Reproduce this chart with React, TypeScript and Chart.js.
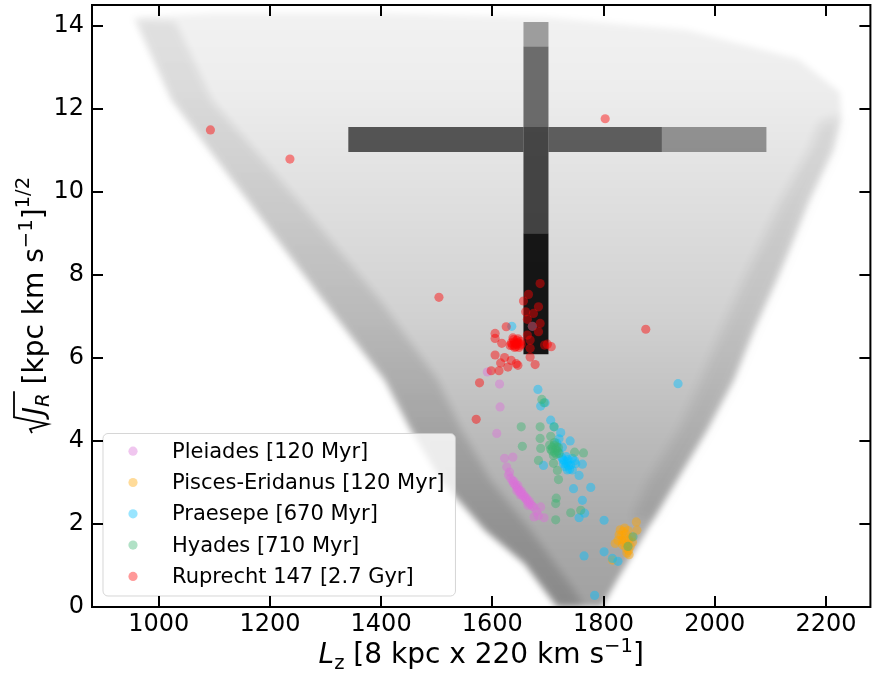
import React, { useEffect, useRef } from "react";
import { Chart, registerables } from "chart.js";

// ---------- axes ----------
const xTickValues = [1000, 1200, 1400, 1600, 1800, 2000, 2200];
const yTickValues = [0, 2, 4, 6, 8, 10, 12, 14];
const xRange = [880, 2280];
const yRange = [0, 14.5];

// ---------- cluster members [Lz, sqrt(JR)] ----------
const clusterNames = [
  "Pleiades [120 Myr]",
  "Pisces-Eridanus [120 Myr]",
  "Praesepe [670 Myr]",
  "Hyades [710 Myr]",
  "Ruprecht 147 [2.7 Gyr]",
];

const pleiades = [
  [1591, 5.66], [1613, 5.37], [1614, 4.82], [1608, 4.18], [1622, 3.58], [1637, 3.61], [1626, 3.37], [1631, 3.25],
  [1629, 3.18], [1633, 3.1], [1636, 3.04], [1638, 2.98], [1641, 2.95], [1643, 2.9], [1645, 2.86], [1647, 2.83],
  [1649, 2.79], [1651, 2.76], [1653, 2.72], [1655, 2.68], [1658, 2.64], [1660, 2.6], [1663, 2.55], [1666, 2.5],
  [1669, 2.47], [1672, 2.43], [1675, 2.4], [1639, 3.03], [1646, 2.93], [1652, 2.8], [1657, 2.7], [1662, 2.62],
  [1667, 2.55], [1644, 2.8], [1650, 2.7], [1664, 2.45], [1675, 2.17], [1693, 2.15], [1687, 2.41], [1680, 2.3],
  [1683, 2.2],
];

const piscesEridanus = [
  [1830, 1.86], [1835, 1.82], [1840, 1.76], [1838, 1.66], [1832, 1.72], [1845, 1.62], [1842, 1.5], [1836, 1.56],
  [1840, 1.42], [1845, 1.36], [1848, 1.46], [1833, 1.62], [1850, 1.68], [1844, 1.84], [1838, 1.9], [1842, 1.3],
  [1846, 1.26], [1834, 1.5], [1828, 1.74], [1852, 1.56], [1859, 2.05], [1860, 1.85], [1821, 1.53], [1816, 1.13],
  [1826, 1.6],
];

const praesepe = [
  [1682, 5.24], [1695, 4.92], [1687, 4.84], [1705, 4.5], [1711, 4.34], [1723, 4.2], [1740, 4.0], [1744, 3.58],
  [1762, 3.44], [1756, 3.17], [1692, 3.41], [1746, 2.85], [1777, 2.88], [1762, 2.57], [1766, 2.26], [1756, 2.15],
  [1801, 2.09], [1801, 1.33], [1765, 1.23], [1816, 1.17], [1826, 1.1], [1784, 0.28], [1934, 5.38], [1635, 6.76],
  [1672, 6.76],
  [1725, 3.6], [1729, 3.52], [1733, 3.45], [1737, 3.4], [1735, 3.5], [1731, 3.38], [1739, 3.32], [1727, 3.55],
  [1736, 3.55], [1741, 3.42], [1733, 3.62], [1720, 3.72], [1744, 3.3], [1748, 3.52], [1750, 3.45], [1728, 3.45],
  [1716, 3.95], [1720, 4.05], [1726, 3.85], [1735, 3.3],
];

const hyades = [
  [1652, 4.34], [1654, 3.87], [1686, 4.34], [1689, 5.0], [1693, 4.92], [1687, 3.82], [1683, 3.53], [1705, 4.11],
  [1710, 3.46], [1719, 3.07], [1715, 2.62], [1714, 2.49], [1714, 2.1], [1741, 2.27], [1759, 2.33], [1764, 3.71],
  [1844, 1.46], [1853, 1.69], [1711, 4.34], [1748, 3.73], [1717, 3.29], [1686, 4.06],
  [1708, 3.85], [1711, 3.9], [1714, 3.8], [1717, 3.76], [1712, 3.72], [1707, 3.76], [1716, 3.86], [1719, 3.84],
  [1705, 3.8], [1712, 3.96], [1715, 3.68], [1710, 3.65], [1703, 3.9], [1720, 3.7],
];

const ruprecht147 = [
  [1093, 11.49], [1236, 10.79], [1803, 11.76], [1504, 7.46], [1876, 6.69], [1571, 4.52], [1577, 5.4],
  [1686, 7.79], [1665, 7.53], [1656, 7.37], [1683, 7.23], [1660, 7.11], [1674, 7.07], [1663, 6.93], [1686, 6.83],
  [1672, 6.76], [1683, 6.63], [1625, 6.75], [1605, 6.59], [1663, 6.55], [1605, 6.47], [1617, 6.35], [1668, 6.43],
  [1668, 6.23], [1699, 6.33], [1706, 6.27], [1694, 6.31], [1605, 6.07], [1622, 6.01], [1634, 5.94], [1646, 5.82],
  [1628, 5.78], [1615, 5.88], [1677, 5.84], [1598, 5.69], [1612, 5.69], [1668, 6.02], [1643, 5.86],
  [1636, 6.3], [1640, 6.38], [1644, 6.42], [1648, 6.35], [1642, 6.27], [1638, 6.44], [1650, 6.3], [1634, 6.36],
  [1646, 6.46], [1651, 6.4], [1640, 6.25], [1644, 6.33], [1632, 6.3], [1648, 6.25], [1652, 6.33], [1637, 6.48],
  [1641, 6.34], [1645, 6.37], [1639, 6.31],
];

// ---------- background field outlines [Lz, sqrt(JR)] ----------
const fieldOutline = [
  [953, 14.2], [1100, 14.3], [1400, 14.3], [1700, 14.2], [1950, 13.9], [2150, 13.2], [2225, 12.4], [2228, 11.8],
  [2213, 11.0], [2170, 9.8], [2134, 8.6], [2111, 7.87], [2070, 6.66], [2034, 5.46], [1986, 4.26], [1932, 3.05],
  [1878, 1.85], [1824, 0.64], [1797, 0], [1717, 0], [1704, 0.23], [1658, 1.05], [1587, 1.85], [1508, 3.05],
  [1454, 4.26], [1407, 5.46], [1296, 7.39], [1160, 9.8], [1023, 12.21],
];

const leftArm = [
  [960, 14.15], [1023, 12.21], [1160, 9.8], [1296, 7.39], [1407, 5.46], [1454, 4.26], [1508, 3.05], [1587, 1.85],
  [1658, 1.05], [1704, 0.23], [1717, 0], [1765, 0], [1748, 0.4], [1669, 1.85], [1597, 3.05], [1545, 4.26],
  [1502, 5.46], [1398, 7.39], [1250, 9.8], [1095, 12.21], [1030, 14.1],
];

const rightArm = [
  [2228, 11.8], [2213, 11.0], [2170, 9.8], [2134, 8.6], [2111, 7.87], [2070, 6.66], [2034, 5.46], [1986, 4.26],
  [1932, 3.05], [1890, 2.1], [1850, 2.1], [1880, 3.05], [1935, 4.26], [1975, 5.46], [2012, 6.66], [2052, 7.87],
  [2078, 8.6], [2120, 9.8], [2170, 11.0], [2190, 11.7],
];

// ---------- test-particle cross [Lz, sqrt(JR)] ----------
const crossBarLeft = [[1341, 10.96], [1656, 10.96], [1656, 11.56], [1341, 11.56]];
const crossBarRight = [[1701, 10.96], [1905, 10.96], [1905, 11.56], [1701, 11.56]];
const crossBarTail = [[1905, 10.96], [2093, 10.96], [2093, 11.56], [1905, 11.56]];
const crossStemTip = [[1656, 13.5], [1701, 13.5], [1701, 14.09], [1656, 14.09]];
const crossStemTop = [[1656, 11.56], [1701, 11.56], [1701, 13.5], [1656, 13.5]];
const crossStemMid = [[1656, 9.0], [1701, 9.0], [1701, 11.56], [1656, 11.56]];
const crossStemBase = [[1656, 6.09], [1701, 6.09], [1701, 9.0], [1656, 9.0]];

// ---------- styling ----------
const FONT = '"DejaVu Sans", sans-serif';
const clusterColors = ["218,112,214", "255,165,0", "0,191,255", "60,179,113", "255,0,0"];
const clusterSeries = [pleiades, piscesEridanus, praesepe, hyades, ruprecht147];

// soft edges for the density field: set a canvas blur before a dataset's fill is drawn
const softEdgePlugin = {
  id: "softEdge",
  beforeDatasetDraw(chart: any, args: any) {
    const ds = chart.data.datasets[args.index];
    if (ds && ds.softBlur) chart.ctx.filter = `blur(${ds.softBlur}px)`;
  },
  afterDatasetDraw(chart: any, args: any) {
    const ds = chart.data.datasets[args.index];
    if (ds && ds.softBlur) chart.ctx.filter = "none";
  },
};
Chart.register(softEdgePlugin as any);
Chart.register(...registerables);

const toXY = (a: number[][]) => a.map(([x, y]) => ({ x, y }));

const shade = (stops: number[][]) => (ctx: any) => {
  const chart = ctx.chart;
  const ys = chart.scales && chart.scales.y;
  if (!ys || !chart.chartArea) return "rgba(0,0,0,0.15)";
  const y0 = ys.getPixelForValue(yRange[1]);
  const y1 = ys.getPixelForValue(yRange[0]);
  const g = chart.ctx.createLinearGradient(0, y0, 0, y1);
  for (const [v, a] of stops) {
    g.addColorStop((yRange[1] - v) / (yRange[1] - yRange[0]), `rgba(0,0,0,${a})`);
  }
  return g;
};

const polygon = (data: number[][], color: any, blur: number) => ({
  data: toXY(data),
  showLine: true,
  fill: "shape",
  backgroundColor: color,
  borderColor: "rgba(0,0,0,0)",
  borderWidth: 0,
  pointRadius: 0,
  pointHoverRadius: 0,
  softBlur: blur,
});

const clusterDataset = (i: number) => ({
  label: clusterNames[i],
  data: toXY(clusterSeries[i]),
  showLine: false,
  pointRadius: 4.6,
  pointHoverRadius: 4.6,
  pointBorderWidth: 0,
  pointBackgroundColor: `rgba(${clusterColors[i]},0.45)`,
  pointBorderColor: "rgba(0,0,0,0)",
  backgroundColor: `rgba(${clusterColors[i]},0.45)`,
});

type Piece = { t: string; font: string; dy?: number; over?: boolean; space?: number };

function pieceWidth(ctx: CanvasRenderingContext2D, p: Piece) {
  if (p.space !== undefined) return p.space;
  ctx.font = p.font;
  return ctx.measureText(p.t).width;
}

function richWidth(ctx: CanvasRenderingContext2D, pieces: Piece[]) {
  let w = 0;
  for (const p of pieces) w += pieceWidth(ctx, p);
  return w;
}

function drawRich(ctx: CanvasRenderingContext2D, pieces: Piece[], x0: number, base: number) {
  let x = x0;
  let overEnd = -1;
  for (const p of pieces) {
    const w = pieceWidth(ctx, p);
    if (p.space === undefined) {
      ctx.font = p.font;
      ctx.fillText(p.t, x, base + (p.dy || 0));
    }
    if (p.over) overEnd = x + w;
    x += w;
  }
  return overEnd;
}

const decorPlugin = {
  id: "decor",
  afterDatasetsDraw(chart: any) {
    const { ctx, chartArea } = chart;
    const { left, right, top, bottom } = chartArea;
    const xs = chart.scales.x;
    const ys = chart.scales.y;
    ctx.save();
    // legend
    const rowH = 31.3;
    ctx.font = `21px ${FONT}`;
    let maxW = 0;
    for (const n of clusterNames) maxW = Math.max(maxW, ctx.measureText(n).width);
    const lw = 69 + maxW + 11;
    const lh = rowH * clusterNames.length + 6;
    const lx = left + 11;
    const ly = bottom - 11 - lh;
    ctx.beginPath();
    ctx.roundRect(lx, ly, lw, lh, 5);
    ctx.fillStyle = "rgba(255,255,255,0.8)";
    ctx.fill();
    ctx.lineWidth = 1;
    ctx.strokeStyle = "rgba(204,204,204,0.8)";
    ctx.stroke();
    ctx.textBaseline = "middle";
    ctx.textAlign = "left";
    clusterNames.forEach((n, i) => {
      const cy = ly + 17.7 + i * rowH;
      ctx.beginPath();
      ctx.arc(lx + 30, cy, 4.6, 0, Math.PI * 2);
      ctx.fillStyle = `rgba(${clusterColors[i]},0.4)`;
      ctx.fill();
      ctx.fillStyle = "#000";
      ctx.fillText(n, lx + 69, cy + 1);
    });
    // frame and inward ticks
    ctx.strokeStyle = "#000";
    ctx.lineWidth = 2;
    ctx.strokeRect(left, top, right - left, bottom - top);
    const tl = 11;
    ctx.beginPath();
    for (const v of xTickValues) {
      const p = Math.round(xs.getPixelForValue(v));
      ctx.moveTo(p, bottom);
      ctx.lineTo(p, bottom - tl);
      ctx.moveTo(p, top);
      ctx.lineTo(p, top + tl);
    }
    for (const v of yTickValues) {
      const p = Math.round(ys.getPixelForValue(v));
      ctx.moveTo(left, p);
      ctx.lineTo(left + tl, p);
      ctx.moveTo(right, p);
      ctx.lineTo(right - tl, p);
    }
    ctx.stroke();
    ctx.restore();
  },
  afterDraw(chart: any) {
    const { ctx, chartArea } = chart;
    const { left, right, top, bottom } = chartArea;
    ctx.save();
    ctx.fillStyle = "#000";
    ctx.textBaseline = "alphabetic";
    ctx.textAlign = "left";
    const big = `28px ${FONT}`;
    const bigIt = `italic 28px ${FONT}`;
    const small = `19.6px ${FONT}`;
    const smallIt = `italic 19.6px ${FONT}`;
    // x title
    const xp: Piece[] = [
      { t: "L", font: bigIt },
      { t: "z", font: small, dy: 6 },
      { t: " [8 kpc x 220 km s", font: big },
      { t: "\u22121", font: small, dy: -11 },
      { t: "]", font: big },
    ];
    const xw = richWidth(ctx, xp);
    drawRich(ctx, xp, (left + right) / 2 - xw / 2, 663);
    // y title
    const yp: Piece[] = [
      { t: "", font: big, space: 20 },
      { t: "J", font: bigIt, over: true },
      { t: "R", font: smallIt, dy: 6, over: true },
      { t: " [kpc km s", font: big },
      { t: "\u22121", font: small, dy: -11 },
      { t: "]", font: big },
      { t: "1/2", font: small, dy: -14 },
    ];
    const yw = richWidth(ctx, yp);
    ctx.translate(43, (top + bottom) / 2);
    ctx.rotate(-Math.PI / 2);
    const sx = -yw / 2;
    const overEnd = drawRich(ctx, yp, sx, 0);
    // radical sign
    ctx.beginPath();
    ctx.lineWidth = 1.8;
    ctx.lineJoin = "miter";
    ctx.strokeStyle = "#000";
    ctx.moveTo(sx + 2, -11);
    ctx.lineTo(sx + 6, -13);
    ctx.lineTo(sx + 11, 5);
    ctx.lineTo(sx + 18, -29);
    ctx.lineTo(overEnd + 2, -29);
    ctx.stroke();
    ctx.restore();
  },
};

export default function App() {
  const ref = useRef<HTMLCanvasElement>(null);
  useEffect(() => {
    if (!ref.current) return;
    const datasets: any[] = [
      clusterDataset(4),
      clusterDataset(3),
      clusterDataset(2),
      clusterDataset(1),
      clusterDataset(0),
      polygon(crossStemBase, "rgba(0,0,0,0.9)", 0.6),
      polygon(crossStemMid, "rgba(0,0,0,0.7)", 0.6),
      polygon(crossStemTop, "rgba(0,0,0,0.55)", 0.6),
      polygon(crossStemTip, "rgba(0,0,0,0.35)", 0.6),
      polygon(crossBarLeft, "rgba(0,0,0,0.64)", 0.6),
      polygon(crossBarRight, "rgba(0,0,0,0.6)", 0.6),
      polygon(crossBarTail, "rgba(0,0,0,0.38)", 0.6),
      polygon(rightArm, "rgba(0,0,0,0.08)", 6),
      polygon(leftArm, shade([[14.5, 0.07], [10, 0.09], [6, 0.12], [2, 0.15], [0, 0.15]]), 4),
      polygon(fieldOutline, shade([[14.5, 0.05], [12.5, 0.07], [10, 0.12], [7, 0.18], [4, 0.27], [1.5, 0.34], [0, 0.37]]), 3),
    ];
    const chart = new Chart(ref.current, {
      type: "scatter",
      data: { datasets },
      options: {
        animation: false,
        responsive: false,
        devicePixelRatio: 1,
        events: [],
        layout: { padding: { top: 5, right: 1, left: 0, bottom: 0 } },
        plugins: { legend: { display: false }, tooltip: { enabled: false } },
        scales: {
          x: {
            type: "linear",
            min: xRange[0],
            max: xRange[1],
            afterBuildTicks: (s: any) => {
              s.ticks = xTickValues.map((v) => ({ value: v }));
            },
            afterFit: (s: any) => {
              s.height = 68;
              s.paddingLeft = 0;
              s.paddingRight = 0;
            },
            grid: { display: false, drawTicks: false },
            border: { display: false },
            ticks: {
              padding: 3,
              color: "#000",
              font: { family: FONT, size: 24 },
              maxRotation: 0,
              autoSkip: false,
              callback: (v: any) => String(v),
            },
          },
          y: {
            type: "linear",
            min: yRange[0],
            max: yRange[1],
            afterBuildTicks: (s: any) => {
              s.ticks = yTickValues.map((v) => ({ value: v }));
            },
            afterFit: (s: any) => {
              s.width = 92;
              s.paddingTop = 0;
              s.paddingBottom = 0;
            },
            grid: { display: false, drawTicks: false },
            border: { display: false },
            ticks: {
              padding: 8,
              color: "#000",
              font: { family: FONT, size: 24 },
              autoSkip: false,
              callback: (v: any) => String(v),
            },
          },
        },
      },
      plugins: [decorPlugin],
    } as any);
    return () => chart.destroy();
  }, []);
  return (
    <div style={{ position: "absolute", left: 0, top: 0, width: 875, height: 675 }}>
      <canvas ref={ref} width={875} height={675} style={{ display: "block" }} />
    </div>
  );
}
